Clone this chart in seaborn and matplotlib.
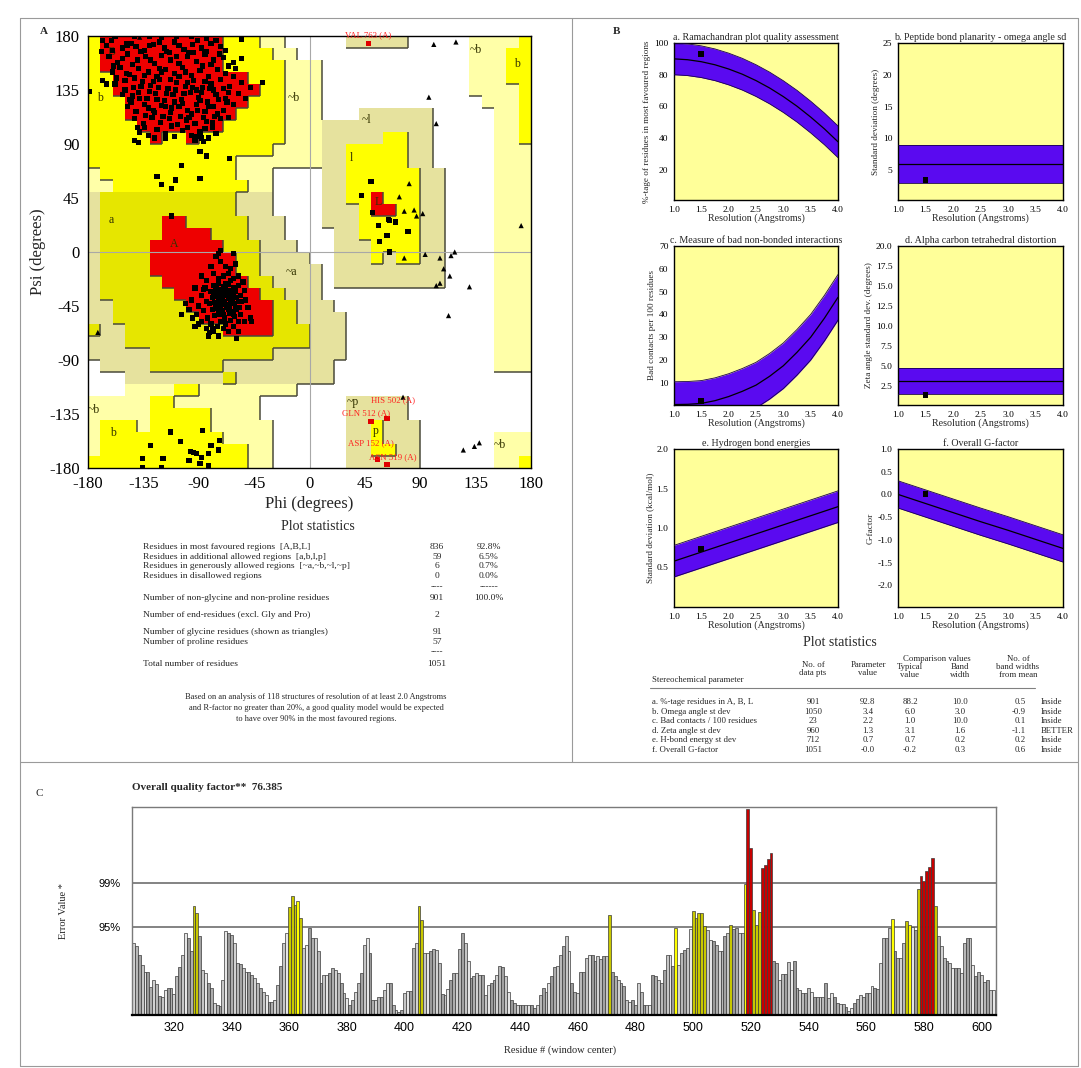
import numpy as np
import seaborn as sns
import matplotlib.pyplot as plt
from matplotlib.colors import ListedColormap
from matplotlib.collections import LineCollection
from matplotlib.lines import Line2D

# ---------------- data ----------------
# Ramachandran region map (10 deg cells), rows from psi=180 down to -180,
# run-length coded: . white, c cream, k khaki, y yellow, o olive, r red
rama_rle = [
    "y1 r10 y3 c2 .5 k5 .5 c4 y1",
    "y1 r10 y4 c2 .14 c3 y2",
    "y1 r10 y5 c3 .12 c3 y2",
    "y2 r11 y3 c3 .12 c3 y2",
    "y2 r12 y2 c3 .12 c4 y1",
    "y3 r10 y3 c3 .13 c3 y1",
    "y3 r9 y4 c3 .3 k6 .5 c2 y1",
    "y4 r7 y5 c3 k9 .5 c2 y1",
    "y5 r1 y2 r1 y7 c3 k5 y2 k2 .5 c2 y1",
    "y15 c4 k2 y5 k2 .5 c3",
    "y12 c7 k2 y5 k2 .5 c3",
    "c1 y11 c3 .4 k2 y6 k2 .4 c3",
    "c2 y11 c2 .4 k2 y6 k2 .4 c3",
    "k1 o11 k3 .4 k2 y2 r1 y3 k2 .4 c3",
    "k1 o11 k3 .4 k3 y1 r2 y2 k2 .4 c3",
    "k1 o5 r2 o5 k3 .3 k3 y5 k2 .4 c3",
    "k1 o5 r4 o3 k3 .4 k2 y5 k2 .4 c3",
    "k1 o4 r6 o3 k3 .3 k3 y4 k2 .4 c3",
    "k1 o4 r7 o2 k4 .2 k3 y1 k1 y2 k2 .4 c3",
    "k1 o4 r7 o2 k5 .1 k9 .4 c3",
    "k1 o5 r7 o2 k4 .1 k9 .4 c3",
    "k1 o6 r7 o2 k3 .14 c3",
    "k2 o6 r7 o2 k3 .13 c3",
    "k2 o7 r6 o2 k4 .12 c3",
    "o1 k2 o8 r4 o3 k3 .12 c3",
    "k3 o15 k3 .12 c3",
    "k5 o10 k6 .12 c3",
    ".1 k4 o6 k9 .13 c3",
    ".3 k8 o1 k8 .16",
    ".3 c4 y2 c8 .19",
    "c5 y2 c7 .7 k5 .10",
    "c5 y5 c4 .7 k5 .10",
    "c1 y3 c1 y5 c5 .6 k2 y1 k3 .9",
    "c1 y10 c4 .6 k2 y1 k3 .6 c3",
    "c1 y12 c2 .6 k2 y2 k2 .6 c3",
    "y13 c2 .6 k6 .6 c2 y1",
]

# residues (phi,psi), non-glycine: beta cluster
beta_pts = """
-165,172 -152,170 -145,174 -134,168 -127,173 -118,170 -110,175 -102,169 -95,173 -88,170 -80,174 -72,171
-163,163 -156,158 -148,165 -140,160 -133,163 -126,157 -120,164 -113,160 -106,157 -99,163 -92,159 -85,165 -78,160 -70,162 -62,158
-160,150 -154,154 -146,148 -139,153 -131,150 -124,146 -117,152 -110,149 -103,154 -96,147 -89,151 -82,146 -75,152 -68,149 -60,153
-158,140 -150,143 -143,137 -136,142 -129,139 -122,144 -115,136 -108,141 -101,138 -94,143 -87,137 -80,140 -72,144 -65,138 -55,141 -48,137
-152,131 -146,127 -139,133 -132,128 -125,132 -118,126 -111,131 -104,127 -97,133 -90,129 -83,125 -76,131 -68,128 -58,132
-148,121 -141,117 -134,123 -127,118 -120,122 -113,116 -106,121 -99,118 -92,123 -85,117 -78,121 -70,118 -62,123
-142,111 -135,107 -128,112 -121,108 -114,111 -107,106 -100,110 -93,107 -86,112 -79,108 -72,111
-138,100 -131,97 -124,102 -117,99 -110,96 -103,101 -96,97 -89,100 -82,95 -76,99
-168,176 -158,180 -142,180 -130,180 -120,179 -108,180 -96,180 -84,178 -160,168 -148,172
-161,176 -149,174 -141,171 -130,172 -122,175 -114,166 -106,172 -98,166 -91,176 -84,167 -76,176 -68,168
-159,155 -152,161 -144,156 -137,167 -129,160 -122,153 -116,167 -108,163 -101,150 -94,166 -87,155 -80,156 -73,165 -66,155
-157,145 -149,149 -142,145 -134,147 -127,142 -120,150 -113,144 -106,146 -99,141 -92,135 -85,142 -78,135 -70,136 -62,146
-150,135 -144,130 -137,138 -130,134 -123,137 -116,132 -109,135 -102,132 -95,137 -88,133 -81,136 -74,127 -66,133 -52,128
-145,125 -138,128 -131,120 -124,127 -117,121 -110,125 -103,124 -96,115 -89,126 -82,121 -75,115 -67,125
-140,104 -133,114 -126,116 -119,113 -112,120 -105,113 -98,112 -91,118 -84,109 -77,113 -66,112
-134,104 -126,95 -112,105 -99,104 -92,96 -85,103 -79,104
"""

# alpha-helix cluster
alpha_pts = """
-78,-28 -74,-26 -70,-29 -66,-27 -62,-30 -58,-28 -80,-33 -76,-32 -72,-34 -68,-31 -64,-35 -60,-33 -56,-36
-79,-38 -75,-37 -71,-39 -67,-36 -63,-40 -59,-38 -55,-41 -81,-43 -77,-42 -73,-44 -69,-41 -65,-45 -61,-43 -57,-46
-79,-48 -75,-47 -71,-49 -67,-46 -63,-50 -59,-48 -77,-53 -73,-52 -69,-55 -65,-51 -61,-54 -72,-58 -68,-60 -64,-57 -75,-62
-70,-20 -66,-18 -74,-22 -62,-22 -78,-18 -68,-12 -72,-8 -64,-14 -76,-4 -80,-12 -58,-20 -60,-10
-85,-30 -88,-36 -84,-41 -90,-45 -86,-49 -92,-52 -83,-55 -88,-58 -95,-55 -98,-48 -84,-24 -88,-20
-80,-60 -84,-64 -78,-66 -70,-64 -66,-66 -74,-70 -82,-70 -62,-62
-52,-40 -53,-32 -50,-46 -54,-25 -56,-52 -48,-55 -58,-58
-76,-30 -72,-31 -68,-33 -64,-32 -60,-31 -78,-35 -74,-40 -70,-36 -66,-39 -62,-37 -58,-41 -76,-45 -72,-46
-68,-44 -64,-42 -60,-46 -74,-50 -70,-52 -66,-48 -62,-52 -70,-43 -66,-33 -74,-35 -68,-26 -64,-24
"""

# scattered non-glycine residues
other_pts = """
-179,134 -168,143 -165,140 -169,167 -55,177 -55,161 -38,141 -142,93 -139,91 -117,95 -93,93 -88,95 -86,92
-89,84 -84,80 -65,78 -104,72 -124,63 -120,56 -109,60 -112,53 -89,61 -112,30
50,59 42,47 51,33 56,22 64,27 65,26 70,25 63,14 80,17 65,0 57,9
-104,-52 -93,-62 -90,-60 -81,-67 -79,-64 -59,-72 -58,-66 -47,-58 -53,-58 -101,-43 -96,-40 -93,-30 -86,-31
-62,-1 -74,-1 -72,1
-113,-150 -87,-149 -129,-161 -80,-161 -73,-157 -97,-166 -94,-167 -92,-168 -88,-171 -74,-165 -82,-168
-136,-172 -119,-172 -105,-158 -98,-174 -89,-176 -82,-178 -136,-180 -120,-180
"""

# glycine residues (triangles)
gly_pts = """
101,173 119,175 97,129 103,107 172,22 81,57 73,46 77,34 85,35 87,30 92,32 77,-5 94,-2 106,-5 115,-3 118,0
109,-14 114,-20 106,-26 103,-28 130,-29 113,-53 76,-121 125,-165 134,-162 138,-159 -172,-67 -138,179
"""

# residues flagged in red
flag_pts = "48,174 50,-141 63,-139 55,-173 63,-177"
flag_labels = [("VAL 763 (A)", 48, 177), ("HIS 502 (A)", 68, -127), ("GLN 512 (A)", 46, -138),
               ("ASP 152 (A)", 50, -163), ("ASN 519 (A)", 68, -174)]

region_labels = [("B", -161, 167), ("b", -170, 128), ("~b", -13, 128), ("~l", 46, 110), ("l", 34, 78),
                 ("L", 56, 42), ("a", -161, 27), ("A", -110, 7), ("~a", -15, -17), ("~b", -175, -132),
                 ("b", -160, -151), ("p", 54, -149), ("~p", 35, -125), ("~b", 155, -161), ("~b", 135, 168),
                 ("b", 169, 157)]

rama_stats = [
    ("Residues in most favoured regions  [A,B,L]", "836", "92.8%"),
    ("Residues in additional allowed regions  [a,b,l,p]", "59", "6.5%"),
    ("Residues in generously allowed regions  [~a,~b,~l,~p]", "6", "0.7%"),
    ("Residues in disallowed regions", "0", "0.0%"),
    ("", "----", "------"),
    ("Number of non-glycine and non-proline residues", "901", "100.0%"),
    ("Number of end-residues (excl. Gly and Pro)", "2", ""),
    ("Number of glycine residues (shown as triangles)", "91", ""),
    ("Number of proline residues", "57", ""),
    ("", "----", ""),
    ("Total number of residues", "1051", ""),
]
rama_note = ["Based on an analysis of 118 structures of resolution of at least 2.0 Angstroms",
             "and R-factor no greater than 20%, a good quality model would be expected",
             "to have over 90% in the most favoured regions."]

# PROCHECK quality graphs
res_fine = [1.0, 1.25, 1.5, 1.75, 2.0, 2.25, 2.5, 2.75, 3.0, 3.25, 3.5, 3.75, 4.0]
res = [1.0, 1.5, 2.0, 2.5, 3.0, 3.5, 4.0]
rama_mean = [90.0, 89.45, 88.2, 86.26, 83.6, 80.32, 76.3, 71.61, 66.2, 60.14, 53.3, 45.89, 37.7]
omega_mean = [6.0, 6.0, 6.0, 6.0, 6.0, 6.0, 6.0]
contacts_mean = [0.5, 0.6, 1.0, 2.2, 4.0, 6.3, 9.0, 12.9, 17.5, 23.4, 30.0, 38.3, 47.5]
zeta_mean = [3.1, 3.1, 3.1, 3.1, 3.1, 3.1, 3.1]
hbond_mean = [0.58, 0.695, 0.81, 0.925, 1.04, 1.155, 1.27]
gfactor_mean = [0.0, -0.2, -0.4, -0.6, -0.79, -0.99, -1.19]
band_widths = [10.0, 3.0, 10.0, 1.6, 0.2, 0.3]
model_values = [92.8, 3.4, 2.2, 1.3, 0.73, 0.0]
model_resolution = 1.5

param_stats = [
    ("a. %-tage residues in A, B, L", "901", "92.8", "88.2", "10.0", "0.5", "Inside"),
    ("b. Omega angle st dev", "1050", "3.4", "6.0", "3.0", "-0.9", "Inside"),
    ("c. Bad contacts / 100 residues", "23", "2.2", "1.0", "10.0", "0.1", "Inside"),
    ("d. Zeta angle st dev", "960", "1.3", "3.1", "1.6", "-1.1", "BETTER"),
    ("e. H-bond energy st dev", "712", "0.7", "0.7", "0.2", "0.2", "Inside"),
    ("f. Overall G-factor", "1051", "-0.0", "-0.2", "0.3", "0.6", "Inside"),
]

# ERRAT error values per residue, window centres 306..604
errat_start = 306
errat_vals = [
    9.4, 9.0, 7.8, 6.5, 5.6, 5.6, 3.6, 4.6, 4.0, 2.5, 2.4, 3.3, 3.5, 3.5, 2.7, 5.0, 6.2, 7.8, 10.6, 10.0, 8.3,
    14.1, 13.2,
    10.2, 5.9, 5.4, 4.2, 3.5, 1.5, 1.3, 1.2, 4.6, 10.9, 10.7, 10.4, 9.3, 6.7, 6.6, 6.1, 5.6, 5.6, 5.2, 4.8,
    4.1, 3.5, 3.0, 2.6, 1.7, 1.7, 2.0, 3.9, 6.3, 9.3, 10.6,
    14.0, 15.4, 14.3, 14.8, 12.6,
    8.7, 9.1, 11.3, 10.0, 10.0, 8.3, 4.1, 5.2, 5.2, 5.4, 6.1, 5.8, 5.4, 4.1, 2.8, 2.2, 1.3, 2.0, 3.0, 4.1,
    5.4, 9.1, 10.0, 8.0, 1.9, 2.0, 2.4, 2.4, 3.3, 4.1, 4.1, 1.3, 0.7, 0.4, 0.7, 2.8, 3.1, 3.1, 8.7, 9.3,
    14.1, 12.3,
    8.0, 8.0, 8.3, 8.6, 8.5, 6.8, 2.7, 2.6, 3.4, 4.5,
    5.4, 5.4, 8.6, 10.6, 9.3, 7.0, 4.8, 5.1, 5.4, 5.2,
    5.2, 2.6, 3.9, 4.1, 4.5, 5.2, 6.3, 6.2, 5.0, 3.0,
    2.0, 1.5, 1.3, 1.3, 1.3, 1.3, 1.3, 1.3, 0.9, 1.3,
    2.6, 3.5, 3.0, 4.1, 5.0, 6.2, 6.3, 7.8, 8.9, 10.2,
    8.3, 4.1, 3.0, 2.8, 5.6, 5.6, 7.4, 7.8, 7.8, 7.0,
    7.6, 7.3, 7.6, 7.6, 13.0, 5.6, 5.0, 4.6, 4.1, 3.8,
    1.9, 1.7, 2.0, 1.3, 4.1, 3.0, 1.3, 1.3, 1.3, 5.2,
    5.0, 4.6, 4.1, 5.8, 7.8, 7.8, 6.3, 11.3, 6.5, 8.0,
    8.5, 8.7, 11.1, 13.5, 12.6, 13.2, 13.2, 11.5,
    11.0, 9.8, 9.6, 9.1, 8.3, 8.3, 10.2, 10.6, 11.7, 11.1,
    11.3, 10.6, 10.6, 17.0, 26.7, 21.7, 13.6, 11.7, 13.4, 19.1,
    19.5, 20.2, 21.0, 7.0, 6.7, 4.6, 5.3, 5.3, 6.9, 5.9,
    7.0, 3.5, 3.3, 2.8, 2.8, 3.5, 3.0, 2.4, 2.4, 2.4,
    2.4, 4.1, 2.2, 2.8, 2.4, 1.5, 1.4, 1.4, 1.1, 0.5,
    0.9, 1.5, 2.1, 2.6, 2.4, 2.8, 2.8, 3.8, 3.5, 3.4,
    6.7, 10.0, 10.0, 11.3, 12.4, 8.3, 7.4, 7.4, 9.3, 12.2,
    11.7, 11.4, 11.0, 16.4, 18.0, 17.4, 18.7, 19.2, 20.4, 14.1,
    10.2, 8.9, 7.4, 7.0, 6.7, 6.1, 6.1, 6.1, 5.4, 9.3,
    10.0, 10.0, 6.5, 5.0, 5.6, 5.2, 4.3, 4.6, 3.3, 3.3,
]
red_res = [519, 520, 524, 525, 526, 527, 579, 580, 581, 582, 583]
olive_res = [327, 328, 360, 361, 362, 364, 405, 406, 471, 500, 501, 502, 503, 504, 513,
             521, 522, 523, 574, 578, 584]
bright_res = [363, 494, 518, 569, 575]
limit_95, limit_99 = 11.38, 17.19

# ---------------- figure ----------------
W, H = 1081, 1068
sns.set_theme(style="white")
plt.rcParams['font.family'] = ['Liberation Serif', 'DejaVu Serif']
plt.rcParams['axes.unicode_minus'] = False
plt.rcParams['axes.edgecolor'] = 'black'
plt.rcParams['xtick.color'] = 'black'
plt.rcParams['ytick.color'] = 'black'

fig = plt.figure(figsize=(W / 100, H / 100), dpi=100)
fig.patch.set_facecolor('white')


def box(l, t, r, b):
    return [l / W, 1 - b / H, (r - l) / W, (b - t) / H]


def ftext(x, y, s, **kw):
    kw.setdefault('va', 'center')
    fig.text(x / W, 1 - y / H, s, **kw)


def fline(x0, y0, x1, y1, **kw):
    fig.add_artist(Line2D([x0 / W, x1 / W], [1 - y0 / H, 1 - y1 / H],
                          transform=fig.transFigure, **kw))


def parse_pts(s):
    arr = np.array([[float(v) for v in p.split(',')] for p in s.split()])
    return arr[:, 0], arr[:, 1]


# frames
frame = dict(color='#9a9a9a', lw=0.8)
fline(20, 18, 1078, 18, **frame)
fline(20, 18, 20, 1066, **frame)
fline(1078, 18, 1078, 1066, **frame)
fline(20, 1066, 1078, 1066, **frame)
fline(572, 18, 572, 762, **frame)
fline(20, 762, 1078, 762, **frame)

# ---------------- panel A : Ramachandran plot ----------------
ax = fig.add_axes(box(88, 36, 531, 468))
codes = {'.': 0, 'c': 1, 'k': 2, 'y': 3, 'o': 4, 'r': 5}
level = np.array([0, 1, 1, 2, 2, 3])
cmap = ListedColormap(['#FFFFFF', '#FFFFA8', '#E6E29E', '#FFFF00', '#E6E600', '#EE0000'])


def expand(rle):
    return ''.join(tok[0] * int(tok[1:]) for tok in rle.split())


grid = np.array([[codes[ch] for ch in expand(r)] for r in rama_rle])
phi_edges = np.arange(-180, 181, 10)
psi_edges = np.arange(180, -181, -10)
ax.pcolormesh(phi_edges, psi_edges, grid, cmap=cmap, vmin=-0.5, vmax=5.5, shading='flat', zorder=0)

lev = level[grid]
segs = []
for i in range(36):
    for j in range(35):
        if lev[i, j] > lev[i, j + 1]:
            x = -170 + 10 * j
            segs.append([(x, 180 - 10 * i), (x, 170 - 10 * i)])
for i in range(35):
    for j in range(36):
        if lev[i, j] > lev[i + 1, j]:
            y = 170 - 10 * i
            segs.append([(-180 + 10 * j, y), (-170 + 10 * j, y)])
ax.add_collection(LineCollection(segs, colors='#4a4a3a', linewidths=1.1, zorder=1))
ax.axhline(0, color='#a8a8a8', lw=0.8, zorder=1)
ax.axvline(0, color='#a8a8a8', lw=0.8, zorder=1)

for lab, x, y in region_labels:
    ax.text(x, y, lab, fontsize=8.5, color='#333300', ha='center', va='center', zorder=2)

for s in (beta_pts, alpha_pts, other_pts):
    px, py = parse_pts(s)
    sns.scatterplot(x=px, y=py, marker='s', s=14, color='black', edgecolor='none', ax=ax, zorder=5)
gx, gy = parse_pts(gly_pts)
sns.scatterplot(x=gx, y=gy, marker='^', s=14, color='black', edgecolor='none', ax=ax, zorder=5)
fx, fy = parse_pts(flag_pts)
sns.scatterplot(x=fx, y=fy, marker='s', s=14, color='#E00000', edgecolor='none', ax=ax, zorder=6)
for lab, x, y in flag_labels:
    ax.text(x, y, lab, fontsize=6.3, color='#FF2020', ha='center', va='bottom', zorder=7, clip_on=False)

ax.set_xlim(-180, 180)
ax.set_ylim(-180, 180)
ticks = list(range(-180, 181, 45))
ax.set_xticks(ticks)
ax.set_yticks(ticks)
ax.set_xticklabels([str(t) for t in ticks], fontsize=12)
ax.set_yticklabels([str(t) for t in ticks], fontsize=12)
ax.tick_params(direction='out', length=4, width=1, pad=2)
ax.set_xlabel("Phi (degrees)", fontsize=12, labelpad=3)
ax.set_ylabel("Psi (degrees)", fontsize=12, labelpad=2)
for sp in ax.spines.values():
    sp.set_linewidth(1.0)
    sp.set_color('black')

ftext(40, 31, "A", fontsize=8, fontweight='bold')
ftext(318, 526, "Plot statistics", fontsize=10, ha='center')
rows_y = [547, 557, 566.5, 576.5, 587, 598, 615, 632, 642, 652.5, 663.5]
for (lab, n, pc), y in zip(rama_stats, rows_y):
    ftext(143, y, lab, fontsize=6.8)
    ftext(437, y, n, fontsize=6.8, ha='center')
    ftext(489, y, pc, fontsize=6.8, ha='center')
for k, line in enumerate(rama_note):
    ftext(316, 697 + 11 * k, line, fontsize=6.0, ha='center')

# ---------------- panel B : quality graphs ----------------
ftext(613, 31, "B", fontsize=8, fontweight='bold')
panels = [
    ("a. Ramachandran plot quality assessment", "%-tage of residues in most favoured regions",
     res_fine, rama_mean, (1, 100), [20, 40, 60, 80, 100], "{:.0f}", (674, 43, 838, 200)),
    ("b. Peptide bond planarity - omega angle sd", "Standard deviation (degrees)",
     res, omega_mean, (0.3, 25), [5, 10, 15, 20, 25], "{:.0f}", (898, 43, 1063, 200)),
    ("c. Measure of bad non-bonded interactions", "Bad contacts per 100 residues",
     res_fine, contacts_mean, (0.3, 70), [10, 20, 30, 40, 50, 60, 70], "{:.0f}", (674, 246, 838, 405)),
    ("d. Alpha carbon tetrahedral distortion", "Zeta angle standard dev. (degrees)",
     res, zeta_mean, (0.1, 20), [2.5, 5, 7.5, 10, 12.5, 15, 17.5, 20], "{:.1f}", (898, 246, 1063, 405)),
    ("e. Hydrogen bond energies", "Standard deviation (kcal/mol)",
     res, hbond_mean, (0.0, 2.0), [0.5, 1.0, 1.5, 2.0], "{:.1f}", (674, 449, 838, 607)),
    ("f. Overall G-factor", "G-factor",
     res, gfactor_mean, (-2.48, 1.0), [-2.0, -1.5, -1.0, -0.5, 0.0, 0.5, 1.0], "{:.1f}", (898, 449, 1063, 607)),
]
for (title, ylab, xs, mean, ylim, yt, fmt, bx), bw, val in zip(panels, band_widths, model_values):
    a = fig.add_axes(box(*bx))
    a.set_facecolor('#FFFF99')
    xs = np.asarray(xs)
    m = np.asarray(mean)
    a.fill_between(xs, m - bw, m + bw, color='#5A0AF0', zorder=2, lw=0)
    for yy in (m - bw, m + bw):
        sns.lineplot(x=xs, y=yy, color='#1a0050', lw=0.6, ax=a, zorder=3)
    sns.lineplot(x=xs, y=m, color='black', lw=0.9, ax=a, zorder=3)
    sns.scatterplot(x=[model_resolution], y=[val], marker='s', s=18, color='black',
                    edgecolor='none', ax=a, zorder=5)
    a.set_xlim(1.0, 4.0)
    a.set_ylim(*ylim)
    a.set_xticks(res)
    a.set_xticklabels([f"{r:.1f}" for r in res], fontsize=6.8)
    a.set_yticks(yt)
    a.set_yticklabels([fmt.format(t) for t in yt], fontsize=6.8)
    a.tick_params(direction='out', length=2.5, width=0.8, pad=1.5)
    a.set_title(title, fontsize=7.2, pad=2)
    a.set_xlabel("Resolution (Angstroms)", fontsize=7.2, labelpad=0)
    a.set_ylabel(ylab, fontsize=6.6, labelpad=2)
    for sp in a.spines.values():
        sp.set_linewidth(1.0)
        sp.set_color('black')

ftext(840, 642, "Plot statistics", fontsize=10, ha='center')
hdr = dict(fontsize=6.3, ha='center')
ftext(652, 680, "Stereochemical parameter", fontsize=6.3)
ftext(813, 665, "No. of", **hdr)
ftext(813, 673, "data pts", **hdr)
ftext(868, 665, "Parameter", **hdr)
ftext(868, 673, "value", **hdr)
ftext(937, 659, "Comparison values", **hdr)
ftext(910, 667, "Typical", **hdr)
ftext(910, 675, "value", **hdr)
ftext(960, 667, "Band", **hdr)
ftext(960, 675, "width", **hdr)
ftext(1018, 659, "No. of", **hdr)
ftext(1018, 667, "band widths", **hdr)
ftext(1018, 675, "from mean", **hdr)
fline(650, 688, 1035, 688, color='#808080', lw=0.8)
for k, (lab, n, v, typ, bw, nbw, status) in enumerate(param_stats):
    y = 702 + 9.6 * k
    ftext(652, y, lab, fontsize=6.3)
    ftext(813, y, n, fontsize=6.3, ha='center')
    ftext(868, y, v, fontsize=6.3, ha='center')
    ftext(910, y, typ, fontsize=6.3, ha='center')
    ftext(960, y, bw, fontsize=6.3, ha='center')
    ftext(1026, y, nbw, fontsize=6.3, ha='right')
    ftext(1041, y, status, fontsize=6.3)

# ---------------- panel C : ERRAT ----------------
ftext(35, 793, "C", fontsize=8)
ftext(132, 787, "Overall quality factor**  76.385", fontsize=8, fontweight='bold')
axc = fig.add_axes(box(132, 807, 996, 1015))
residues = np.arange(errat_start, errat_start + len(errat_vals))
greys = ['#d2d2d2', '#b8b8b8', '#a2a2a2', '#c6c6c6', '#e6e6e6', '#9a9a9a', '#adadad']
colors = []
for k, r in enumerate(residues):
    if r in red_res:
        colors.append('#C80000')
    elif r in bright_res:
        colors.append('#FFFF00')
    elif r in olive_res:
        colors.append('#C8C800')
    else:
        colors.append(greys[k % len(greys)])
axc.axhline(limit_95, color='#7a7a7a', lw=1.3, zorder=1)
axc.axhline(limit_99, color='#7a7a7a', lw=1.3, zorder=1)
axc.bar(residues, errat_vals, width=1.0, color=colors, edgecolor='#3a3a3a', linewidth=0.5, zorder=2)
axc.set_xlim(305.5, 605.0)
axc.set_ylim(0, 27)
xt = list(range(320, 601, 20))
axc.set_xticks(xt)
axc.set_xticklabels([str(t) for t in xt], fontsize=9, family=['Liberation Sans', 'DejaVu Sans'])
axc.set_yticks([limit_95, limit_99])
axc.set_yticklabels(['95%', '99%'], fontsize=8, family=['Liberation Sans', 'DejaVu Sans'])
axc.tick_params(axis='y', length=0, pad=8)
axc.tick_params(axis='x', direction='out', length=3, width=1, pad=2)
axc.set_ylabel("Error Value *", fontsize=7.5, labelpad=22)
for name, sp in axc.spines.items():
    sp.set_color('#7a7a7a')
    sp.set_linewidth(1.0)
axc.spines['bottom'].set_color('black')
axc.spines['bottom'].set_linewidth(1.6)
ftext(560, 1050, "Residue # (window center)", fontsize=7.5, ha='center')

fig.savefig("out.png", dpi=100)
